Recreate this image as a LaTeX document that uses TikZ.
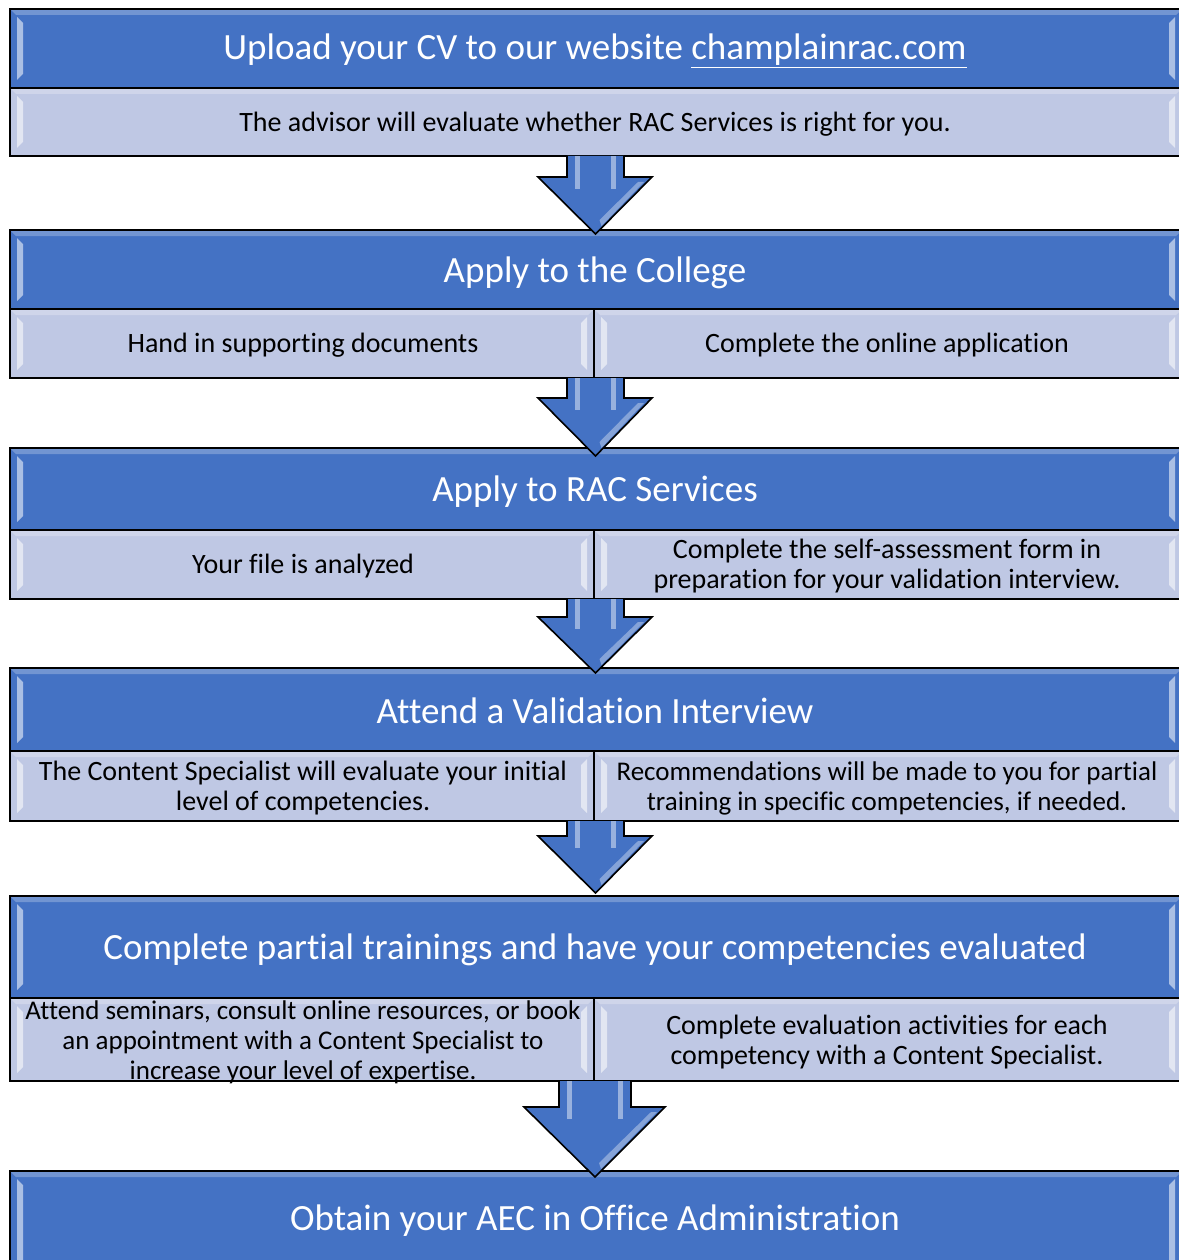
\documentclass[tikz,border=0pt]{standalone}
\usepackage{fontspec}
\setmainfont{Carlito}[Ligatures=NoCommon]
\definecolor{hdr}{HTML}{4472C4}
\definecolor{subc}{HTML}{BFC8E4}
\newcommand\rbox[5]{%
  \fill[#5] (#1,#2) rectangle (#3,#4);
  \fill[white,opacity=0.25] (#1,#2) -- (#3,#2) -- (#3-6,#2+6) -- (#1+6,#2+6) -- cycle;
  \fill[white,opacity=0.55] (#1+7,#2+8) -- (#1+13,#2+14) -- (#1+13,#4-14) -- (#1+7,#4-8) -- cycle;
  \fill[white,opacity=0.55] (#3-7,#2+8) -- (#3-13,#2+14) -- (#3-13,#4-14) -- (#3-7,#4-8) -- cycle;
  \draw[line width=1.6] (#1,#2) rectangle (#3,#4);
}
\newcommand\darrow[7]{% sl sr hl hr top heady tip
  \fill[hdr] (#1,#5) -- (#1,#6) -- (#3,#6) -- ({(#1+#2)/2},#7) -- (#4,#6) -- (#2,#6) -- (#2,#5) -- cycle;
  \fill[white,opacity=0.45] (#1+8,#5) rectangle (#1+13,#6+12);
  \fill[white,opacity=0.45] (#2-13,#5) rectangle (#2-8,#6+12);
  \fill[white,opacity=0.35] ({(#1+#2)/2+4},#7-14) -- (#4-14,#6+5) -- (#4-8,#6+5) -- ({(#1+#2)/2+6},#7-8) -- cycle;
  \draw[line width=1.6,line join=miter] (#1,#5) -- (#1,#6) -- (#3,#6) -- ({(#1+#2)/2},#7) -- (#4,#6) -- (#2,#6) -- (#2,#5);
}
\begin{document}
\begin{tikzpicture}[x=1pt,y=-1pt,
  hdrtext/.style={text=white,font=\fontsize{37}{44}\selectfont,align=center,inner sep=0pt},
  subtext/.style={text=black,font=\fontsize{28}{30}\selectfont,align=center,inner sep=0pt},
  subsmall/.style={text=black,font=\fontsize{27}{30}\selectfont,align=center,inner sep=0pt}]
\useasboundingbox (0,0) rectangle (1178,1260);
% box 1
\rbox{10}{9}{1182}{88}{hdr}
\rbox{10}{88}{1182}{156}{subc}
% box 2
\rbox{10}{230}{1182}{309}{hdr}
\rbox{10}{309}{594}{378}{subc}
\rbox{594}{309}{1182}{378}{subc}
% box 3
\rbox{10}{448}{1182}{530}{hdr}
\rbox{10}{530}{594}{599}{subc}
\rbox{594}{530}{1182}{599}{subc}
% box 4
\rbox{10}{668}{1182}{751}{hdr}
\rbox{10}{751}{594}{821}{subc}
\rbox{594}{751}{1182}{821}{subc}
% box 5
\rbox{10}{896}{1182}{998}{hdr}
\rbox{10}{998}{594}{1081}{subc}
\rbox{594}{998}{1182}{1081}{subc}
% box 6
\rbox{10}{1171}{1182}{1300}{hdr}
% arrows
\darrow{567}{624}{538}{652}{156}{177}{234}
\darrow{567}{624}{538}{652}{378}{398}{456}
\darrow{567}{624}{538}{652}{599}{617}{673}
\darrow{567}{624}{538}{652}{821}{836}{893}
\darrow{559}{631}{524}{665}{1081}{1107}{1177}
% texts
\node[hdrtext] (h1) at (595,51) {Upload your CV to our website \underline{champlainrac.com}};
\node[subtext] (s1) at (595,124) {The advisor will evaluate whether RAC Services is right for you.};
\node[hdrtext] (h2) at (595,273) {Apply to the College};
\node[subtext] (s2a) at (303,345) {Hand in supporting documents};
\node[subtext] (s2b) at (887,345) {Complete the online application};
\node[hdrtext] (h3) at (595,492) {Apply to RAC Services};
\node[subtext] (s3a) at (303,566) {Your file is analyzed};
\node[subtext] (s3b) at (887,566) {Complete the self-assessment form in\\preparation for your validation interview.};
\node[hdrtext] (h4) at (595,711) {Attend a Validation Interview};
\node[subtext] (s4a) at (303,788) {The Content Specialist will evaluate your initial\\level of competencies.};
\node[subsmall] (s4b) at (887,788) {Recommendations will be made to you for partial\\training in specific competencies, if needed.};
\node[hdrtext] (h5) at (595,950) {Complete partial trainings and have your competencies evaluated};
\node[subsmall] (s5a) at (303,1042) {Attend seminars, consult online resources, or book\\an appointment with a Content Specialist to\\increase your level of expertise.};
\node[subtext] (s5b) at (887,1042) {Complete evaluation activities for each\\competency with a Content Specialist.};
\node[hdrtext] (h6) at (595,1221) {Obtain your AEC in Office Administration};
\end{tikzpicture}
\end{document}
